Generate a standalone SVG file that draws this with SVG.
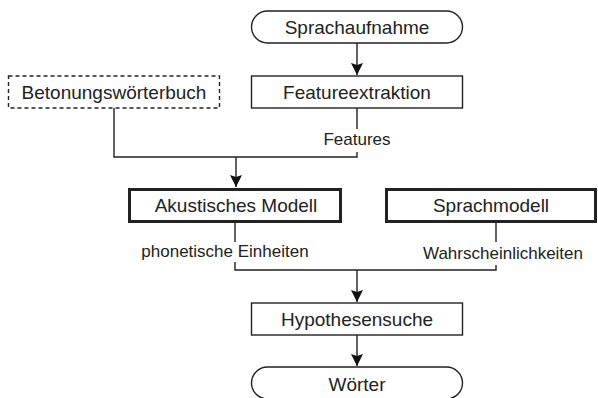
<svg xmlns="http://www.w3.org/2000/svg" width="598" height="398" viewBox="0 0 598 398">
<style>
.box{fill:#fff;stroke:#222;stroke-width:1.4}
.thick{fill:#fff;stroke:#222;stroke-width:3}
.dash{fill:#fff;stroke:#222;stroke-width:1.4;stroke-dasharray:4 3}
.t{font-family:"Liberation Sans",Arial,sans-serif;font-size:19px;fill:#222;text-anchor:middle}
.l{font-family:"Liberation Sans",Arial,sans-serif;font-size:17px;fill:#222;text-anchor:middle}
.e{fill:none;stroke:#222;stroke-width:1.4}
</style>
<defs>
<marker id="ah" markerUnits="userSpaceOnUse" markerWidth="14" markerHeight="14" viewBox="-13 -7 14 14" refX="0" refY="0" orient="auto">
<path d="M0,0 L-12,-6 L-10,0 L-12,6 Z" fill="#111"/>
</marker>
</defs>
<rect width="598" height="398" fill="#fff"/>
<g id="connectors">
<path class="e" d="M357,43 V75" marker-end="url(#ah)"/>
<path class="e" d="M357,108 V129"/>
<path class="e" d="M357,152 V157 H114 V108"/>
<path class="e" d="M236,157 V187" marker-end="url(#ah)"/>
<path class="e" d="M235,223 V242"/>
<path class="e" d="M235,262 V270 H496 V265"/>
<path class="e" d="M496,223 V242"/>
<path class="e" d="M357,270 V302" marker-end="url(#ah)"/>
<path class="e" d="M357,335 V366" marker-end="url(#ah)"/>
<text class="l" x="357" y="145">Features</text>
<text class="l" x="225" y="257">phonetische Einheiten</text>
<text class="l" x="503" y="259">Wahrscheinlichkeiten</text>
</g>
<g id="sprachaufnahme">
<rect class="box" x="251.5" y="11" width="211" height="32" rx="16"/>
<text class="t" x="357" y="34">Sprachaufnahme</text>
</g>
<g id="featureextraktion">
<rect class="box" x="251.5" y="76" width="211" height="32"/>
<text class="t" x="357" y="99">Featureextraktion</text>
</g>
<g id="betonungswoerterbuch">
<rect class="dash" x="8.5" y="76" width="211" height="32"/>
<text class="t" x="114" y="99">Betonungswörterbuch</text>
</g>
<g id="akustisches-modell">
<rect class="thick" x="129.5" y="189.5" width="211" height="32"/>
<text class="t" x="236" y="212">Akustisches Modell</text>
</g>
<g id="sprachmodell">
<rect class="thick" x="386.5" y="189.5" width="209" height="32"/>
<text class="t" x="491" y="212">Sprachmodell</text>
</g>
<g id="hypothesensuche">
<rect class="box" x="251.5" y="303" width="211" height="32"/>
<text class="t" x="357" y="326">Hypothesensuche</text>
</g>
<g id="woerter">
<rect class="box" x="251.5" y="367" width="211" height="32" rx="16"/>
<text class="t" x="357" y="391">Wörter</text>
</g>
</svg>
